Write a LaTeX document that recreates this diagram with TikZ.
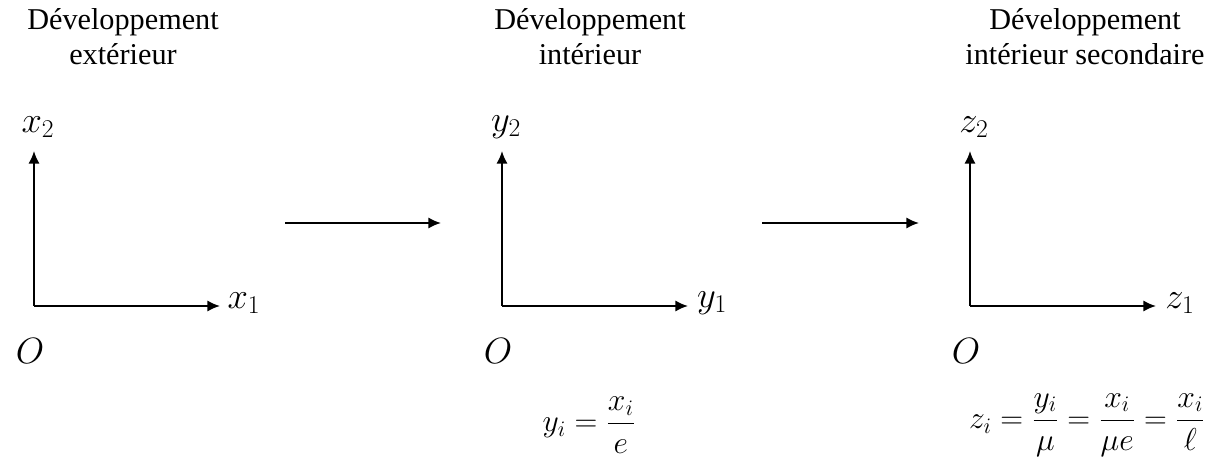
\RequirePackage{fix-cm}
\documentclass[tikz,border=0pt]{standalone}
\usepackage{fontspec}
\setmainfont{Liberation Serif}
\usetikzlibrary{arrows.meta}
\tikzset{lbl/.style={font=\fontsize{26}{30}\selectfont},
  frm/.style={font=\fontsize{22.5}{26}\selectfont}}
\begin{document}
\begin{tikzpicture}[>={Latex[length=9pt,width=8pt]}, line width=1.3pt, x=0.025cm, y=0.025cm,
  font=\fontsize{21.5}{25}\selectfont]
\useasboundingbox (0,0) rectangle (1212,461);

\node[align=center](T1) at (123,424){Développement\\extérieur};
\node[align=center](T2) at (590,424){Développement\\intérieur};
\node[align=center](T3) at (1085,424){Développement\\intérieur secondaire};

\coordinate (O1) at (34,155);
\coordinate (X1) at (220,155);
\coordinate (Y1) at (34,310);
\coordinate (O2) at (502,155);
\coordinate (X2) at (688,155);
\coordinate (Y2) at (502,310);
\coordinate (O3) at (970,155);
\coordinate (X3) at (1156,155);
\coordinate (Y3) at (970,310);

\draw[->](O1)--(X1);
\draw[->](O1)--(Y1);
\draw[->](O2)--(X2);
\draw[->](O2)--(Y2);
\draw[->](O3)--(X3);
\draw[->](O3)--(Y3);

\node[lbl] (A1) at (38,334){$x_2$};
\node[lbl] (B1) at (244,158){$x_1$};
\node[lbl] (C1) at (30,110){$O$};
\node[lbl] (A2) at (506,334){$y_2$};
\node[lbl] (B2) at (712,158){$y_1$};
\node[lbl] (C2) at (498,110){$O$};
\node[lbl] (A3) at (974,334){$z_2$};
\node[lbl] (B3) at (1180,158){$z_1$};
\node[lbl] (C3) at (966,110){$O$};

\coordinate (P1) at (285,238);
\coordinate (Q1) at (441,238);
\coordinate (P2) at (762,238);
\coordinate (Q2) at (919,238);
\draw[->](P1)--(Q1);
\draw[->](P2)--(Q2);

\node[frm] (F2) at (589,36){$\displaystyle y_i=\frac{x_i}{e}$};
\node[frm] (F3) at (1087,36){$\displaystyle z_i=\frac{y_i}{\mu}=\frac{x_i}{\mu e}=\frac{x_i}{\ell}$};
\end{tikzpicture}
\end{document}
